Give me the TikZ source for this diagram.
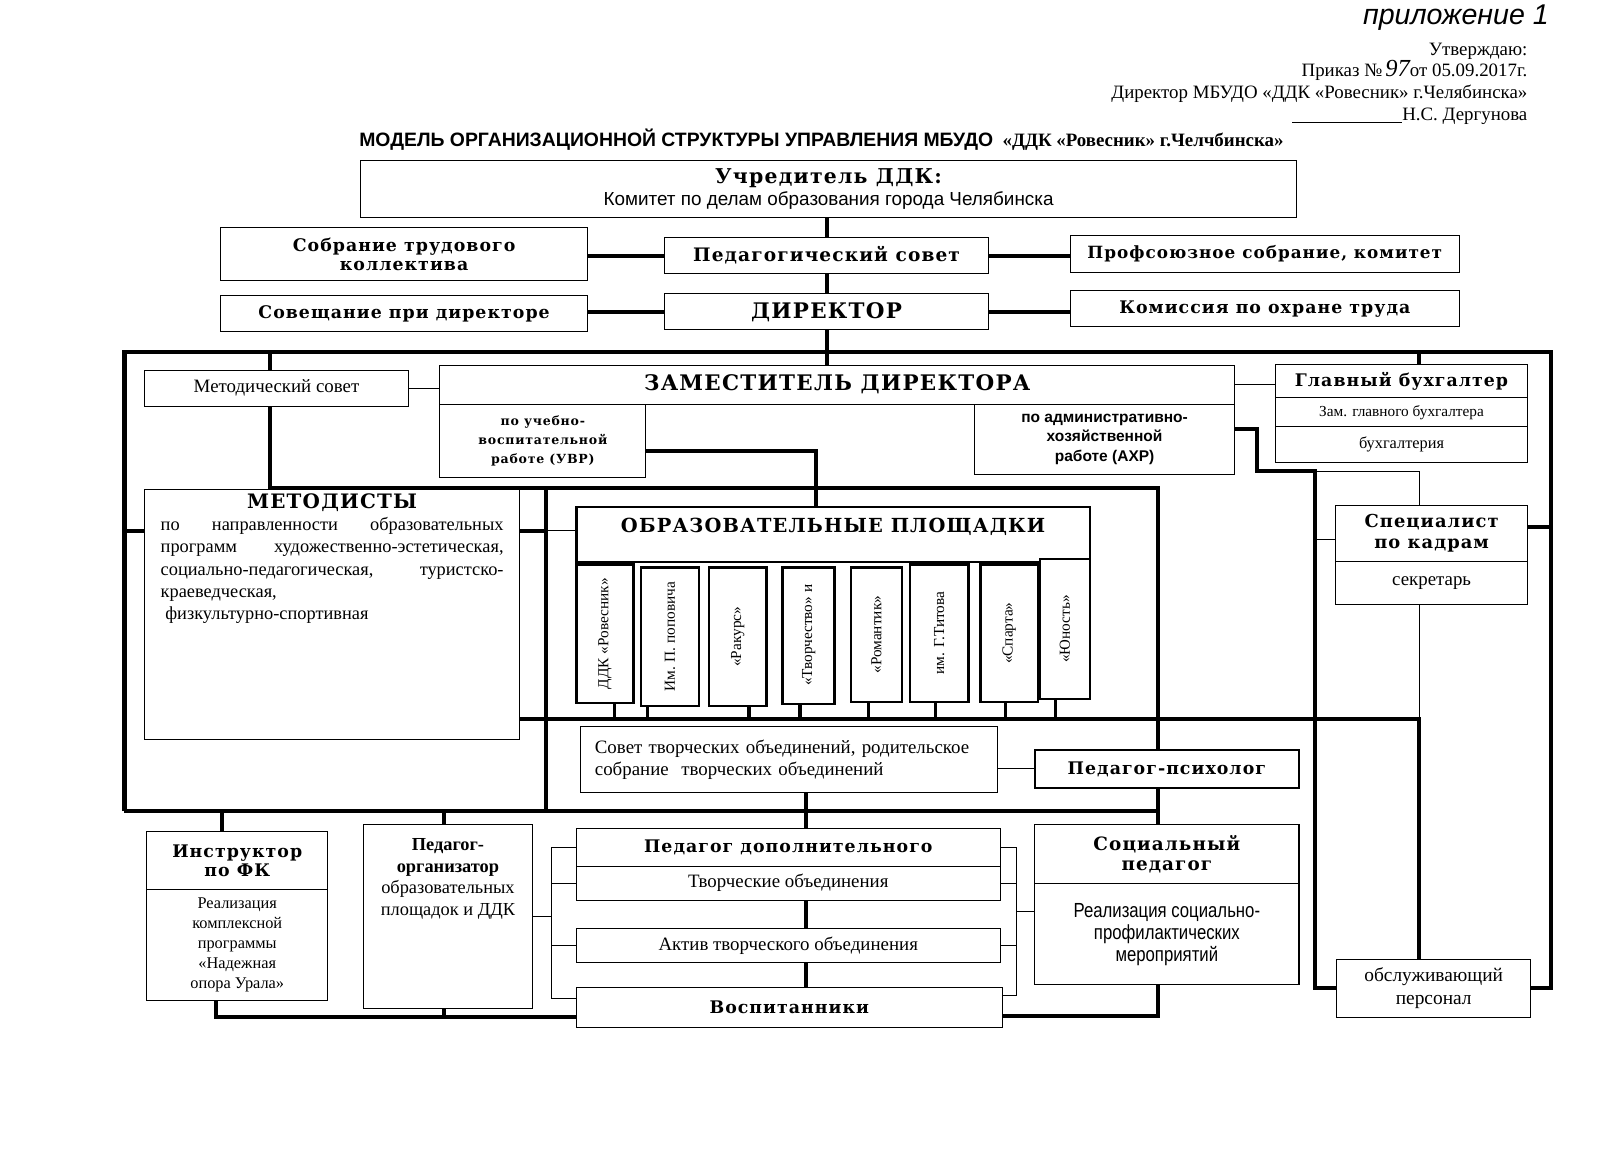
\documentclass[tikz,border=0pt]{standalone}
\usepackage{fontspec}
\setmainfont{Liberation Serif}
\newfontfamily\bookfont{DejaVu Serif}[LetterSpace=6]
\newfontfamily\arialfont{Liberation Sans}
\newfontfamily\narrowfont{Liberation Sans}[FakeStretch=0.82]
\newcommand{\fsz}[2]{\fontsize{#1}{#2}\selectfont}
\usetikzlibrary{positioning}

\begin{document}
\begin{tikzpicture}[
    x=1pt, y=-1pt,
    font=\normalfont,
    box/.style={
		draw=black,
		rectangle,
		line width=1pt,
		inner sep=1pt,
		outer sep=0pt,
		align=center,
		fill=white
	},
    tbox/.style={box, line width=2.2pt},
    plbox/.style={box, line width=2.4pt, inner sep=0pt, font=\fsz{15}{17}},
    hdr/.style={font=\bookfont\bfseries\fsz{17}{19}},
    txt/.style={font=\fsz{18.5}{21.5}},
    bus/.style={line width=4pt},
    stub/.style={line width=3pt},
    wire/.style={line width=0.9pt}
  ]
  \useasboundingbox (0,0) rectangle (1568,1140);

  % header texts
  \node [font=\arialfont\itshape\fsz{28}{28}, anchor=base east, inner sep=0pt] (prilozh) at (1518,24) {приложение 1};
  \node [txt, anchor=base east, inner sep=0pt] (utv) at (1497,54) {Утверждаю:};
  \node [txt, anchor=base east, inner sep=0pt] (prikaz) at (1497,75) {Приказ №\,{\itshape\fsz{24}{24}97}от 05.09.2017г.};
  \node [txt, anchor=base east, inner sep=0pt] (dirline) at (1497,97) {Директор МБУДО «ДДК «Ровесник» г.Челябинска»};
  \node [txt, anchor=base east, inner sep=0pt] (dergun) at (1497,118) {\rule[-2pt]{108pt}{0.7pt}Н.С. Дергунова};
  \node [font=\fsz{18.5}{20}] (title) at (805,137)
   {{\arialfont\bfseries\fsz{19}{20}МОДЕЛЬ ОРГАНИЗАЦИОННОЙ СТРУКТУРЫ УПРАВЛЕНИЯ МБУДО}\ \ {\bfseries «ДДК «Ровесник» г.Челчбинска»}};

  % upper blocks
  \node [box, font=\fsz{18}{22}, minimum width=918pt, minimum height=56pt] (uchred) at (812,185)
   {{\bookfont\bfseries\fsz{20}{22}Учредитель ДДК:}\\{\arialfont\fsz{18.5}{22}Комитет по делам образования города Челябинска}};
  \node [box, hdr, minimum width=360pt, minimum height=52pt] (sobranie) at (396,249) {Собрание трудового\\коллектива};
  \node [box, hdr, font=\bookfont\bfseries\fsz{18.2}{19}, minimum width=317pt, minimum height=35pt] (pedsovet) at (810,250.5) {Педагогический совет};
  \node [box, hdr, font=\bookfont\bfseries\fsz{16.5}{19}, minimum width=381pt, minimum height=36pt] (profsoyuz) at (1239.5,249) {Профсоюзное собрание, комитет};
  \node [box, hdr, minimum width=360pt, minimum height=35pt] (soveshch) at (396,307.5) {Совещание при директоре};
  \node [box, font=\bookfont\bfseries\fsz{21}{22}, minimum width=317pt, minimum height=35pt] (director) at (810,305.5) {ДИРЕКТОР};
  \node [box, hdr, minimum width=381pt, minimum height=35pt] (komissiya) at (1239.5,302.5) {Комиссия по охране труда};

  % deputy row
  \node [box, txt, minimum width=258pt, minimum height=35pt] (metsov) at (271,380.5) {Методический совет};
  \node [box, font=\bookfont\bfseries\fsz{21}{22}, minimum width=779pt, minimum height=38pt] (zam) at (820.5,377) {ЗАМЕСТИТЕЛЬ ДИРЕКТОРА};
  \node [box, font=\bookfont\bfseries\fsz{12.3}{18.5}, minimum width=202pt, minimum height=72pt] (uvr) at (532,432) {по учебно-\\воспитательной\\работе (УВР)};
  \node [box, font=\arialfont\bfseries\fsz{15.2}{19}, minimum width=255pt, minimum height=69pt] (axp) at (1082.5,430.5) {по административно-\\хозяйственной\\работе (АХР)};
  \node [box, hdr, minimum width=247pt, minimum height=33pt] (glbuh) at (1373.5,373.5) {Главный бухгалтер};
  \node [box, font=\fsz{15}{17}, minimum width=247pt, minimum height=28pt, below=0pt of glbuh] (glbuhz) {Зам. главного бухгалтера};
  \node [box, font=\fsz{16}{18}, minimum width=247pt, minimum height=35pt, below=0pt of glbuhz] (buh) {бухгалтерия};

  % methodists
  \node [box, anchor=north west, inner xsep=15.5pt, inner ysep=4pt, font=\fsz{18}{21.7}] (metod) at (142,480)
   {\parbox[c][237pt][t]{336pt}{%
     \makebox[336pt]{\bookfont\bfseries\fsz{19.5}{21.7}МЕТОДИСТЫ}\\
     \makebox[336pt][s]{по направленности образовательных}\\
     \makebox[336pt][s]{программ художественно-эстетическая,}\\
     \makebox[336pt][s]{социально-педагогическая, туристско-}\\
     \makebox[336pt][l]{краеведческая,}\\
     \makebox[336pt][l]{\ физкультурно-спортивная}}};

  % platforms
  \node [tbox, font=\bookfont\bfseries\fsz{19}{21}, minimum width=503pt, minimum height=54pt, inner ysep=0pt, text height=25pt, text depth=29pt] (plhead) at (816.5,524) {ОБРАЗОВАТЕЛЬНЫЕ ПЛОЩАДКИ};
  \node [plbox, minimum width=56pt, minimum height=136pt] (pl1) at (593,621) {\rotatebox{90}{ДДК «Ровесник»}};
  \node [plbox, minimum width=57pt, minimum height=136pt] (pl2) at (656.5,624) {\rotatebox{90}{Им. П. поповича}};
  \node [plbox, minimum width=56pt, minimum height=136pt] (pl3) at (723,624) {\rotatebox{90}{«Ракурс»}};
  \node [plbox, minimum width=51pt, minimum height=134pt] (pl4) at (792.5,623) {\rotatebox{90}{\makebox[100pt][r]{«Творчество» и}}};
  \node [plbox, minimum width=50pt, minimum height=132pt] (pl5) at (859,622) {\rotatebox{90}{«Романтик»}};
  \node [plbox, minimum width=57pt, minimum height=135pt] (pl6) at (920.5,620.5) {\rotatebox{90}{им. Г.Титова}};
  \node [plbox, minimum width=56pt, minimum height=135pt] (pl7) at (989,620.5) {\rotatebox{90}{«Спарта»}};
  \node [plbox, minimum width=49pt, minimum height=137pt] (pl8) at (1043.5,616.5) {\rotatebox{90}{«Юность»}};

  \node [box, txt, minimum width=409pt, minimum height=65pt, text width=381pt, align=left] (sovet) at (773.5,744.5)
   {Совет творческих объединений, родительское\\собрание\ \ творческих объединений};
  \node [tbox, hdr, line width=1.8pt, minimum width=259pt, minimum height=37pt] (psych) at (1143.5,753.5) {Педагог-психолог};

  % right column
  \node [box, font=\bookfont\bfseries\fsz{17.5}{20}, minimum width=188pt, minimum height=55pt] (spec) at (1403,522.5) {Специалист\\по кадрам};
  \node [box, txt, minimum width=188pt, minimum height=42pt, below=0pt of spec] (secr) {секретарь};
  \node [box, font=\fsz{19}{22}, minimum width=190pt, minimum height=57pt] (obsl) at (1405,968.5) {обслуживающий\\персонал};

  % lower blocks
  \node [box, hdr, minimum width=177pt, minimum height=57pt] (instr) at (232.5,843.5) {Инструктор\\по ФК};
  \node [box, font=\fsz{16}{19.5}, minimum width=177pt, minimum height=108pt, below=0pt of instr] (instrb)
   {Реализация\\комплексной\\программы\\«Надежная\\опора Урала»};
  \node [box, inner xsep=3pt, inner ysep=5pt, font=\fsz{18}{21}] (pedorg) at (439,898)
   {\parbox[c][170pt][t]{160pt}{\vspace*{9pt}\centering\textbf{Педагог-\\организатор}\\образовательных\\площадок и ДДК}};
  \node [box, hdr, minimum width=415pt, minimum height=37pt] (peddop) at (772.5,830.5) {Педагог дополнительного};
  \node [box, txt, minimum width=415pt, minimum height=33pt, below=0pt of peddop] (tvob) {Творческие объединения};
  \node [box, txt, minimum width=415pt, minimum height=33pt] (aktiv) at (772.5,926.5) {Актив творческого объединения};
  \node [box, hdr, minimum width=417pt, minimum height=39pt] (vosp) at (773.5,987.5) {Воспитанники};
  \node [box, font=\bookfont\bfseries\fsz{18}{19}, minimum width=259pt, minimum height=58pt] (social) at (1143.5,837) {Социальный\\педагог};
  \node [box, font=\narrowfont\fsz{20}{21.5}, minimum width=259pt, minimum height=99pt, below=0pt of social] (socialb)
   {Реализация социально-\\профилактических\\мероприятий};

  % bus points
  \coordinate (fTL) at (122,345);
  \coordinate (fTR) at (1520,345);
  \coordinate (fBL) at (122,795);
  \coordinate (fBR) at (1135,795);
  \coordinate (b2l) at (265,478);
  \coordinate (b2m) at (800,478);
  \coordinate (b2a) at (535,478);
  \coordinate (b2r) at (1135,478);
  \coordinate (b3l) at (509,705);
  \coordinate (b3r) at (1391,705);
  \coordinate (axc) at (1289,462);
  \coordinate (lm) at (122,520);
  \coordinate (vm) at (535,520);
  \coordinate (dtr) at (790,795);
  \coordinate (s1) at (218,795);
  \coordinate (s2) at (435,795);
  \coordinate (vb) at ([yshift=-9pt]vosp.west);
  \coordinate (lbrk) at (540,895);
  \coordinate (rbrk) at (996,893);

  % connectors, top
  \draw [bus] (pedsovet.north |- uchred.south) -- (pedsovet.north);
  \draw [bus] (pedsovet.south) -- (director.north);
  \draw [bus] (pedsovet.west -| sobranie.east) -- (pedsovet.west);
  \draw [bus] (pedsovet.east) -- (pedsovet.east -| profsoyuz.west);
  \draw [bus] (director.west -| soveshch.east) -- (director.west);
  \draw [bus] (director.east) -- (director.east -| komissiya.west);
  \draw [bus] (director.south) -- (director.south |- zam.north);

  % outer frame
  \draw [bus] (fBL) -- (fTL) -- (fTR) |- (obsl.east);
  \draw [bus] (fBL) -- (fBR);
  \draw [bus] (b2l |- fTL) -- (b2l |- metsov.north);
  \draw [bus] (b3r |- fTR) -- (b3r |- glbuh.north);
  \draw [wire] (metsov.east) -- (metsov.east -| zam.west);
  \draw [wire] (zam.east) -- (zam.east -| glbuh.west);

  % inner frame
  \draw [bus] (b2l |- metsov.south) -- (b2l) -- (b2r) -- (b2r |- psych.north);
  \draw [bus] (b2a) -- (b2a |- fBL);
  \draw [bus] ([yshift=-10pt]uvr.east) -| (b2m) -- (b2m |- plhead.north);
  \draw [bus] ([yshift=10pt]axp.east) -- ++(22,0) |- (axc) |- (obsl.west);
  \draw [wire] (axc) -| (b3r |- spec.north);
  \draw [wire] ([yshift=-6pt]spec.west) -- ([yshift=-6pt]spec.west -| axc);
  \draw [bus] ([yshift=6pt]spec.east) -- ([yshift=6pt]spec.east -| fTR);
  \draw [wire] (secr.south -| b3r) -- (b3r);
  \draw [bus] (b3l) -- (b3r) -- (b3r |- obsl.north);
  \draw [bus] (lm) -- (lm -| metod.west);
  \draw [bus] (vm -| metod.east) -- (vm);
  \draw [wire] (vm) -- (vm -| plhead.west);

  % platforms to bus
  \draw [stub] ([xshift=9pt]pl1.south) -- ([xshift=9pt]pl1.south |- b3l);
  \draw [stub] ([xshift=-21.5pt]pl2.south) -- ([xshift=-21.5pt]pl2.south |- b3l);
  \draw [stub] ([xshift=11pt]pl3.south) -- ([xshift=11pt]pl3.south |- b3l);
  \draw [stub] ([xshift=-8.5pt]pl4.south) -- ([xshift=-8.5pt]pl4.south |- b3l);
  \draw [stub] ([xshift=-8pt]pl5.south) -- ([xshift=-8pt]pl5.south |- b3l);
  \draw [stub] ([xshift=-3.5pt]pl6.south) -- ([xshift=-3.5pt]pl6.south |- b3l);
  \draw [stub] ([xshift=-4pt]pl7.south) -- ([xshift=-4pt]pl7.south |- b3l);
  \draw [stub] ([xshift=-9.5pt]pl8.south) -- ([xshift=-9.5pt]pl8.south |- b3l);

  % lower part
  \draw [wire] (psych.west -| sovet.east) -- (psych.west);
  \draw [bus] (b2r |- psych.south) -- (b2r |- social.north);
  \draw [bus] (sovet.south -| dtr) -- (peddop.north -| dtr);
  \draw [bus] (tvob.south -| dtr) -- (aktiv.north -| dtr);
  \draw [bus] (aktiv.south -| dtr) -- (vosp.north -| dtr);
  \draw [bus] (s1) -- (s1 |- instr.north);
  \draw [bus] (s2) -- (s2 |- pedorg.north);
  \draw [bus] ([xshift=-21pt]instrb.south) |- (vb);
  \draw [bus] (s2 |- pedorg.south) -- (s2 |- vb);
  \draw [bus] ([yshift=-8pt]vosp.east) -| (b2r |- socialb.south);

  % brackets
  \draw [wire] (peddop.west) -| (lbrk) |- ([yshift=9pt]vosp.west);
  \draw [wire] (tvob.west) -- (tvob.west -| lbrk);
  \draw [wire] (aktiv.west) -- (aktiv.west -| lbrk);
  \draw [wire] (pedorg.east) -- (pedorg.east -| lbrk);
  \draw [wire] (peddop.east) -| (rbrk) |- ([yshift=12pt]vosp.east);
  \draw [wire] (tvob.east) -- (tvob.east -| rbrk);
  \draw [wire] (aktiv.east) -- (aktiv.east -| rbrk);
  \draw [wire] (rbrk) -- (rbrk -| socialb.west);

\end{tikzpicture}
\end{document}
